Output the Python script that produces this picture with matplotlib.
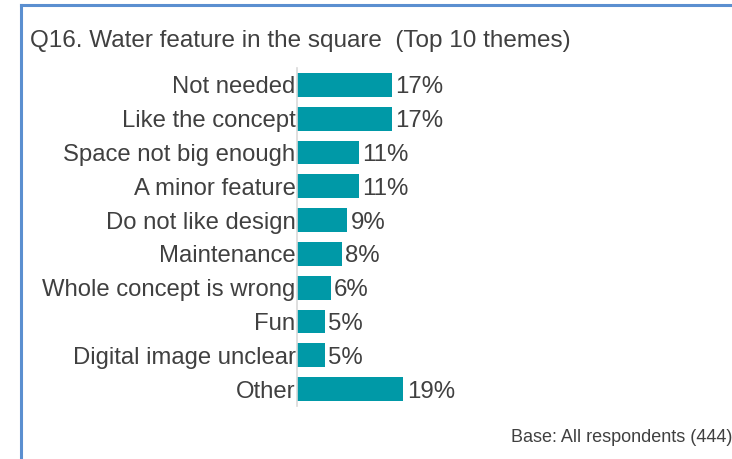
import matplotlib.pyplot as plt
from matplotlib.lines import Line2D

plt.rcParams['font.family'] = ['Liberation Sans', 'DejaVu Sans']

# Survey themes, top to bottom
themes = ["Not needed", "Like the concept", "Space not big enough", "A minor feature",
          "Do not like design", "Maintenance", "Whole concept is wrong", "Fun",
          "Digital image unclear", "Other"]
shares = [17, 17, 11, 11, 9, 8, 6, 5, 5, 19]

W, H = 732, 459
fig = plt.figure(figsize=(W / 100, H / 100), dpi=100)

# axes placed in pixel terms: left 297, right 700, top 68, bottom 406
ax = fig.add_axes([297 / W, 1 - 406 / H, (700 - 297) / W, (406 - 68) / H])

ypos = list(range(len(themes)))
ax.barh(ypos, shares, height=0.71, color="#0099A7")
ax.set_ylim(len(themes) - 0.5, -0.5)
ax.set_xlim(0, 403 / 5.6)

for y, v in zip(ypos, shares):
    ax.text(v + 0.6, y, f"{v}%", va="center_baseline", ha="left",
            fontsize=17.3, color="#404040")

ax.set_yticks(ypos)
ax.set_yticklabels(themes, fontsize=17.2, color="#404040")
ax.tick_params(axis="y", length=0, pad=1)
ax.set_xticks([])
for s in ["top", "right", "bottom"]:
    ax.spines[s].set_visible(False)
ax.spines["left"].set_color("#d9d9d9")
ax.spines["left"].set_linewidth(1.2)

fig.text(30 / W, 1 - 41 / H, "Q16. Water feature in the square  (Top 10 themes)",
         fontsize=17.5, color="#404040", va="center", ha="left")
fig.text(511 / W, 1 - 437 / H, "Base: All respondents (444)",
         fontsize=13, color="#404040", va="center", ha="left")

# frame border (top and left visible)
fig.add_artist(Line2D([21 / W, 1], [1 - 5 / H, 1 - 5 / H], color="#5B8FD0", lw=2.2,
                      transform=fig.transFigure))
fig.add_artist(Line2D([21 / W, 21 / W], [1 - 5 / H, 0], color="#5B8FD0", lw=2.2,
                      transform=fig.transFigure))

fig.savefig("out.png", dpi=100)
